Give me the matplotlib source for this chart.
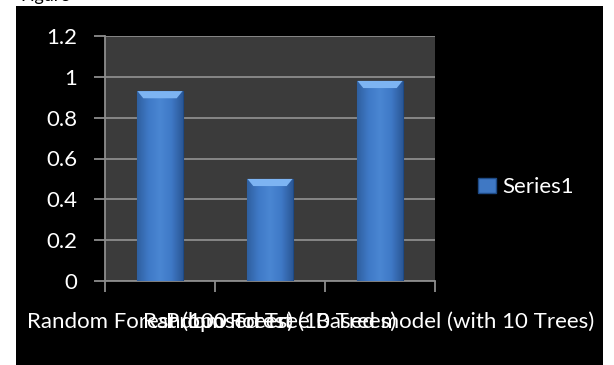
import matplotlib
matplotlib.use("Agg")
import matplotlib.pyplot as plt
import numpy as np
from matplotlib.patches import Rectangle, Polygon
from matplotlib.colors import LinearSegmentedColormap

categories = ["Random Forest (100 Trees)", "Random Forest (10 Trees)",
              "Proposed Tree Based model (with 10 Trees)"]
values = [0.93, 0.50, 0.98]
yticks = [0, 0.2, 0.4, 0.6, 0.8, 1, 1.2]
ytick_labels = ["0", "0.2", "0.4", "0.6", "0.8", "1", "1.2"]
series_name = "Series1"

plt.rcParams['font.family'] = ['Lato', 'DejaVu Sans']

W, H = 614, 365
fig = plt.figure(figsize=(W / 100, H / 100), dpi=100)
fig.patch.set_facecolor("white")
# black chart background
fig.patches.append(Rectangle((16 / W, 0), (603 - 16) / W, (H - 6) / H,
                             transform=fig.transFigure, facecolor="black",
                             edgecolor="none", zorder=0))
fig.text(20 / W, 1.0 + 4 / H, "Figure", color="black", fontsize=13,
         va="center", ha="left")

ax = fig.add_axes([105 / W, (H - 281) / H, (435 - 105) / W, (281 - 36) / H])
ax.set_facecolor("#3b3b3b")
ax.set_zorder(1)

x = np.arange(len(categories))
bw = 0.41
bars = ax.bar(x, values, width=bw, color="#3f78c4", edgecolor="#1e4a85",
              linewidth=0.8, zorder=3, label=series_name)

cmap = LinearSegmentedColormap.from_list(
    "barg", ["#2f5f9f", "#3f79c6", "#4a86d2", "#3f79c6", "#2b5796"])
grad = np.linspace(0, 1, 256).reshape(1, -1)
for b in bars:
    x0, y0 = b.get_x(), b.get_y()
    w, h = b.get_width(), b.get_height()
    im = ax.imshow(grad, cmap=cmap, aspect="auto", extent=(x0, x0 + w, y0, y0 + h),
                   zorder=3.5, interpolation="bilinear")
    im.set_clip_path(b)
    bh = 0.035
    inset = w * 0.13
    top = Polygon([(x0, y0 + h), (x0 + w, y0 + h), (x0 + w - inset, y0 + h - bh),
                   (x0 + inset, y0 + h - bh)], closed=True,
                  facecolor="#7db4f2", edgecolor="none", zorder=4)
    ax.add_patch(top)

ax.set_xlim(-0.5, len(categories) - 0.5)
ax.set_ylim(0, 1.2)
ax.set_yticks(yticks)
ax.set_yticklabels(ytick_labels)
ax.yaxis.grid(True, color="#8c8c8c", linewidth=1.3, zorder=1)
ax.set_axisbelow(True)

ax.set_xticks(x)
ax.set_xticklabels(categories)
ax.set_xticks(np.arange(len(categories) + 1) - 0.5, minor=True)
ax.tick_params(axis="x", which="major", length=0, pad=22, labelsize=16,
               colors="white")
ax.tick_params(axis="x", which="minor", length=8, width=1.3, color="#8c8c8c",
               direction="out")
ax.tick_params(axis="y", length=8, width=1.3, color="#8c8c8c", pad=12,
               labelsize=16, labelcolor="white")

for s in ["top", "right"]:
    ax.spines[s].set_visible(False)
for s in ["left", "bottom"]:
    ax.spines[s].set_color("#8c8c8c")
    ax.spines[s].set_linewidth(1.3)

leg = fig.legend(handles=[Rectangle((0, 0), 1, 1, facecolor="#3f78c4",
                                    edgecolor="#1e4a85")],
                 labels=[series_name], loc="center left",
                 bbox_to_anchor=(458 / W, (H - 187) / H), frameon=False,
                 fontsize=16, handlelength=0.8, handleheight=0.65,
                 handletextpad=0.3, labelcolor="white")

fig.savefig("out.png", dpi=100, facecolor=fig.get_facecolor())
